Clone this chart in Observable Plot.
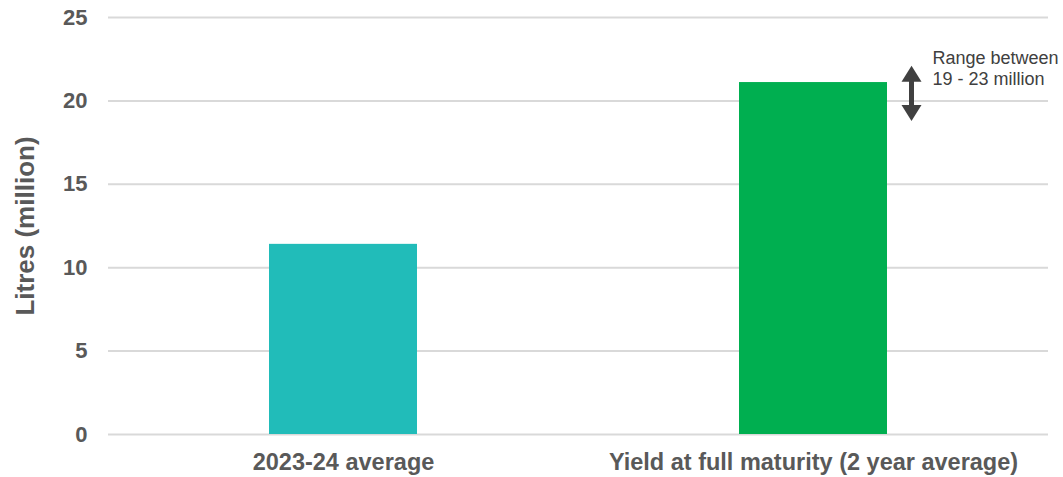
<!DOCTYPE html>
<html>
<head>
<meta charset="utf-8">
<script src="https://cdn.jsdelivr.net/npm/d3@7"></script>
<script src="https://cdn.jsdelivr.net/npm/@observablehq/plot@0.6"></script>
<style>
  html, body { margin: 0; padding: 0; background: #ffffff; }
  #chart svg { display: block; }
</style>
</head>
<body>
<div id="chart"></div>
<script>
// Production volumes, million litres
const categories = ["2023-24 average", "Yield at full maturity (2 year average)"];
const litres = [11.4, 21.1];
const barColors = ["#21BCB9", "#00AF50"];
const yTicks = [0, 5, 10, 15, 20, 25];

// Double-headed range arrow beside the second bar, and its note
const arrowLow = 18.8;
const arrowHigh = 22.1;
const rangeNote = "Range between\n19 - 23 million";
const axisTitle = "Litres (million)";

const bars = categories.map((c, i) => ({category: c, value: litres[i], color: barColors[i]}));
const arrow = [{category: categories[1], low: arrowLow, high: arrowHigh}];

const ink = "#404040";
const labelGrey = "#595959";
const font = "'Liberation Sans', Arial, Helvetica, sans-serif";

// Filled arrowheads: tip sits at the anchor point
const headUp = {draw(ctx) { ctx.moveTo(0, 0); ctx.lineTo(10, 16); ctx.lineTo(-10, 16); ctx.closePath(); }};
const headDown = {draw(ctx) { ctx.moveTo(0, 0); ctx.lineTo(10, -16); ctx.lineTo(-10, -16); ctx.closePath(); }};

const arrowDx = 98;

const chart = Plot.plot({
  width: 1063,
  height: 477,
  marginTop: 17,
  marginBottom: 43,
  marginLeft: 108,
  marginRight: 15,
  style: {fontFamily: font, background: "#ffffff"},
  x: {domain: categories, paddingInner: 0.685, paddingOuter: 0.3425, label: null},
  y: {domain: [0, 25], label: null},
  marks: [
    Plot.gridY(yTicks, {stroke: "#d9d9d9", strokeOpacity: 1, strokeWidth: 2}),
    Plot.barY(bars, {x: "category", y: "value", fill: "color"}),
    Plot.axisY(yTicks, {
      tickSize: 0, tickPadding: 21, fontSize: 22, fontWeight: "bold",
      fill: labelGrey, label: null
    }),
    Plot.axisX({
      tickSize: 0, tickPadding: 19, fontSize: 23.5, fontWeight: "bold",
      fill: labelGrey, label: null
    }),
    Plot.text([axisTitle], {
      frameAnchor: "left", rotate: -90, dx: -83, fontSize: 26,
      fontWeight: "bold", fill: labelGrey, textAnchor: "middle"
    }),
    // range arrow: shaft between the two heads
    Plot.ruleX(arrow, {x: "category", y1: "high", y2: "low", dx: arrowDx, stroke: ink, strokeWidth: 5, insetTop: 8, insetBottom: 8}),
    Plot.dot(arrow, {x: "category", y: "high", dx: arrowDx, symbol: headUp, fill: ink, stroke: "none"}),
    Plot.dot(arrow, {x: "category", y: "low", dx: arrowDx, symbol: headDown, fill: ink, stroke: "none"}),
    Plot.text(arrow, {
      x: "category", y: "high", text: () => rangeNote, dx: 119, dy: 2,
      textAnchor: "start", lineAnchor: "middle", lineHeight: 1.16,
      fontSize: 18, fill: ink
    })
  ]
});

document.getElementById("chart").appendChild(chart);
</script>
</body>
</html>
